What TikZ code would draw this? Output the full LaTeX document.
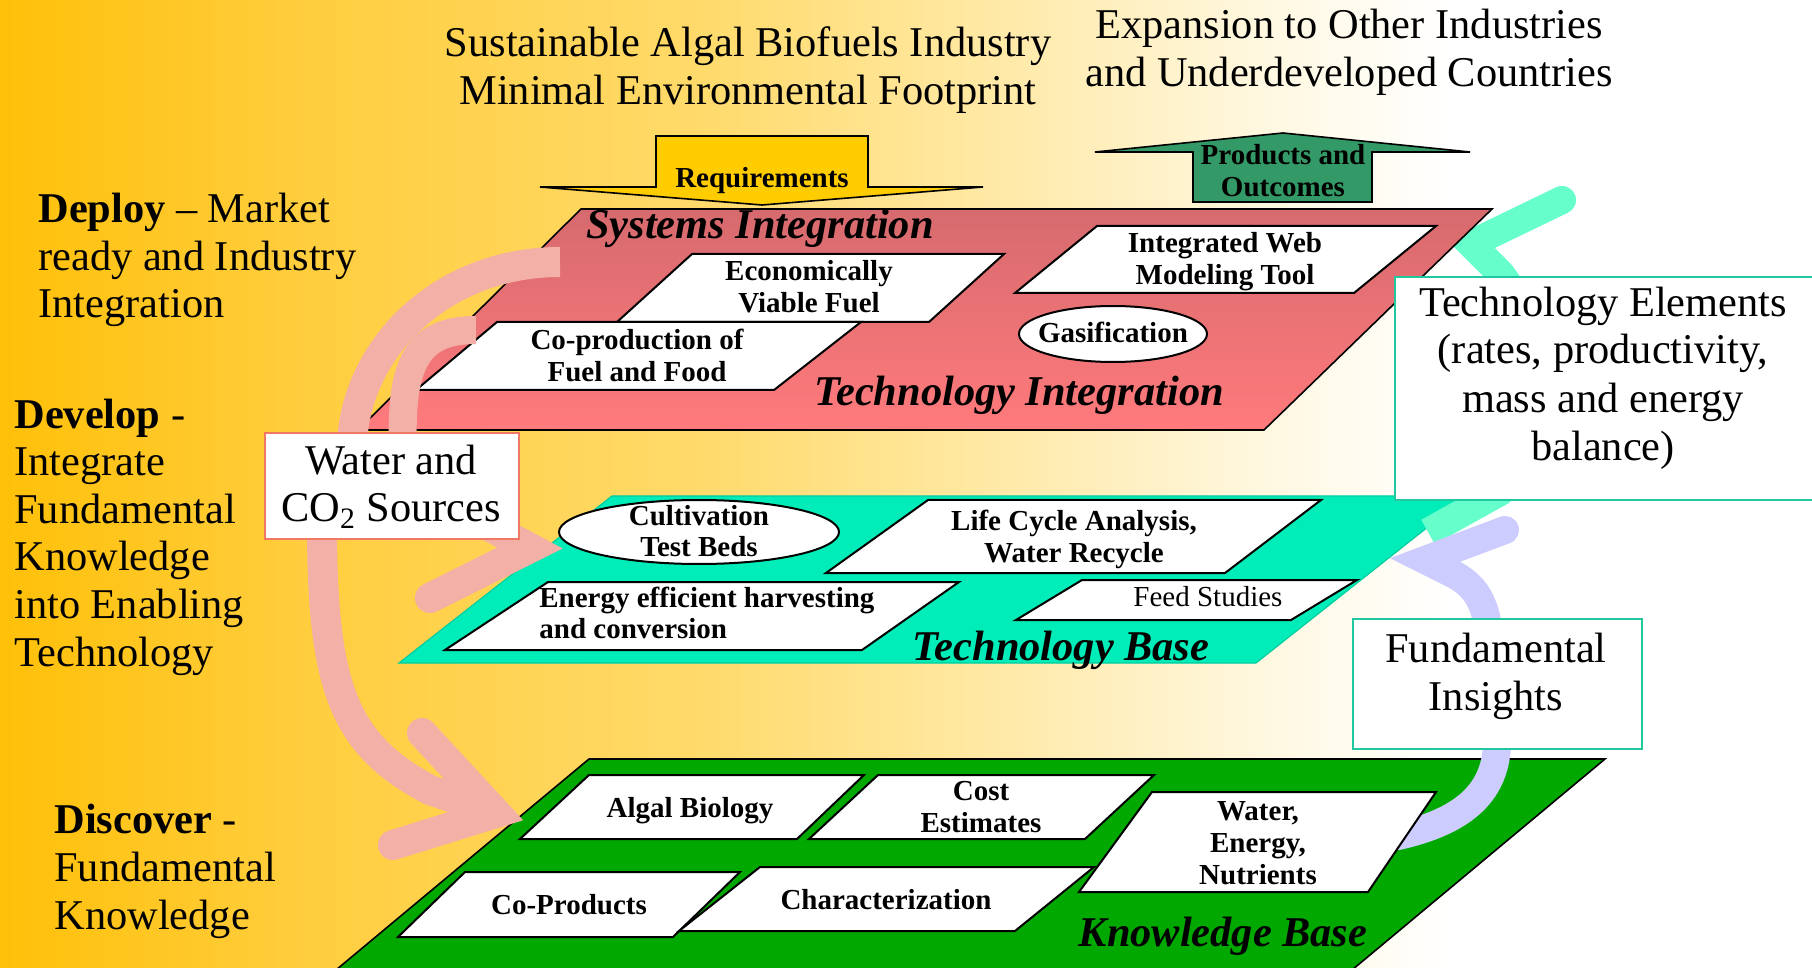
\documentclass[tikz,border=0pt]{standalone}
\usepackage{fontspec}
\setmainfont{Liberation Serif}
\usetikzlibrary{shapes.geometric}

\definecolor{bg0}{RGB}{255,192,8}
\definecolor{bg1}{RGB}{255,205,60}
\definecolor{bg2}{RGB}{255,218,105}
\definecolor{bg3}{RGB}{255,234,170}
\definecolor{bg4}{RGB}{255,248,225}
\definecolor{pinktop}{RGB}{214,106,110}
\definecolor{pinkbot}{RGB}{255,122,124}
\definecolor{tealbase}{RGB}{0,236,184}
\definecolor{tealedge}{RGB}{0,205,160}
\definecolor{greenbase}{RGB}{0,168,0}
\definecolor{reqfill}{RGB}{255,204,0}
\definecolor{prodfill}{RGB}{51,153,102}
\definecolor{salmon}{RGB}{243,176,166}
\definecolor{aqua}{RGB}{102,255,204}
\definecolor{lavender}{RGB}{204,204,255}
\definecolor{waterline}{RGB}{240,120,100}
\definecolor{boxteal}{RGB}{32,200,160}

\pgfdeclarehorizontalshading{bgshade}{100bp}{color(0bp)=(bg0); color(25bp)=(bg0);
  color(33bp)=(bg1); color(44bp)=(bg2); color(53bp)=(bg3); color(60bp)=(bg4);
  color(65bp)=(white); color(100bp)=(white)}

% multi-line nodes are anchored at the baseline of their last line
\tikzset{
  bigtext/.style={font=\fontsize{21.2pt}{24pt}\selectfont, inner sep=0pt, align=center, anchor=base},
  sidetext/.style={font=\fontsize{21.2pt}{23.8pt}\selectfont, inner sep=0pt, align=left, anchor=base west},
  smalllab/.style={font=\bfseries\fontsize{14.5pt}{16pt}\selectfont, inner sep=0pt, align=center, anchor=base},
  layerhead/.style={font=\bfseries\itshape\fontsize{21.2pt}{24pt}\selectfont, inner sep=0pt, anchor=base},
  layeredge/.style={draw=black, line width=0.8pt, line join=miter},
  para/.style={draw=black, line width=1pt, fill=white, line join=miter},
  oval/.style={ellipse, draw=black, line width=1pt, fill=white, inner sep=0pt},
  band/.style={line width=15pt, line cap=butt},
  chevron/.style={line width=15pt, line cap=round, line join=miter},
  infobox/.style={draw=boxteal, line width=0.8pt, fill=white, inner sep=0pt, anchor=north west}
}

\begin{document}
\begin{tikzpicture}[x=0.5pt,y=-0.5pt]
\clip (0,0) rectangle (1812,968);
\shade[shading=bgshade] (0,0) rectangle (1812,968);

% headline texts
\node[bigtext] (goal) at (748,105) {Sustainable Algal Biofuels Industry\\Minimal Environmental Footprint};
\node[bigtext] (expand) at (1349,87) {Expansion to Other Industries\\and Underdeveloped Countries};

% requirements (down) and products (up) block arrows
\filldraw[fill=reqfill, draw=black, line width=0.8pt, line join=miter]
  (656,136) -- (868,136) -- (868,187) -- (983,187) -- (762,205) -- (540,187) -- (656,187) -- cycle;
\node[smalllab] (req) at (762,188) {Requirements};
\filldraw[fill=prodfill, draw=black, line width=0.8pt, line join=miter]
  (1193,202) -- (1193,152) -- (1095,152) -- (1283,133) -- (1470,152) -- (1372,152) -- (1372,202) -- cycle;
\node[smalllab] (prod) at (1283,197) {Products and\\Outcomes};

% technology base layer
\filldraw[fill=tealbase, draw=tealedge, line width=0.6pt] (612,496) -- (1467,496) -- (1256,663) -- (399,663) -- cycle;
\node[oval, minimum width=140pt, minimum height=32pt] (cultoval) at (699,532) {};
\node[smalllab] (cult) at (699,557) {Cultivation\\Test Beds};
\draw[para] (928,500) -- (1321,500) -- (1225,573) -- (826,573) -- cycle;
\node[smalllab] (lca) at (1074,562) {Life Cycle Analysis,\\Water Recycle};
\draw[para] (548,582) -- (959,582) -- (862,650) -- (445,650) -- cycle;
\node[smalllab, align=left, anchor=base west] (harvest) at (539,639) {Energy efficient harvesting\\and conversion};
\draw[para] (1082,580) -- (1357,580) -- (1291,620) -- (1016,620) -- cycle;
\node[smalllab, font=\fontsize{14.5pt}{16pt}\selectfont] (feed) at (1208,606) {Feed Studies};
\node[layerhead] (techbase) at (1061,660) {Technology Base};

% feedback arrow from the technology base up to technology integration
\draw[aqua, band, line width=14pt, line join=miter]
  (1562,200) -- (1471,244) -- (1500,273) .. controls (1540,320) and (1545,440) .. (1500,492) -- (1428,532);
\fill[aqua] (1562,200) circle (7pt);

% technology integration layer
\shadedraw[top color=pinktop, bottom color=pinkbot, layeredge] (581,209) -- (1492,209) -- (1264,430) -- (358,430) -- cycle;
\node[layerhead] (sysint) at (760,239) {Systems Integration};
\draw[para] (692,254) -- (1004,254) -- (929,322) -- (617,322) -- cycle;
\node[smalllab] (econ) at (809,313) {Economically\\Viable Fuel};
\draw[para] (497,322) -- (861,322) -- (774,390) -- (416,390) -- cycle;
\node[smalllab] (coprod) at (637,382) {Co-production of\\Fuel and Food};
\draw[para] (1097,226) -- (1436,226) -- (1354,293) -- (1015,293) -- cycle;
\node[smalllab] (webtool) at (1225,285) {Integrated Web\\Modeling Tool};
\node[oval, minimum width=94pt, minimum height=28pt] (gasoval) at (1113,334) {};
\node[smalllab] (gas) at (1113,343) {Gasification};
\node[layerhead] (techint) at (1019,406) {Technology Integration};

% knowledge base layer
\filldraw[fill=greenbase, layeredge] (589,759) -- (1605,759) -- (1316,1000) -- (300,1000) -- cycle;

% insight arrow from the knowledge base up to the technology base
\draw[lavender, line width=14pt, line cap=round, line join=miter]
  (1505,530) -- (1425,560) -- (1455,575) .. controls (1478,588) and (1486,605) .. (1490,640)
  -- (1497,745) .. controls (1495,795) and (1460,822) .. (1398,836);

\draw[para] (589,775) -- (864,775) -- (797,839) -- (520,839) -- cycle;
\node[smalllab] (algal) at (690,817) {Algal Biology};
\draw[para] (878,775) -- (1154,775) -- (1085,839) -- (809,839) -- cycle;
\node[smalllab] (cost) at (981,832) {Cost\\Estimates};
\draw[para] (465,872) -- (740,872) -- (673,937) -- (398,937) -- cycle;
\node[smalllab] (coproducts) at (569,914) {Co-Products};
\draw[para] (760,867) -- (1094,867) -- (1015,931) -- (679,931) -- cycle;
\node[smalllab] (charact) at (886,909) {Characterization};
\draw[para] (1152,792) -- (1436,792) -- (1368,892) -- (1079,892) -- cycle;
\node[smalllab] (wen) at (1258,884) {Water,\\Energy,\\Nutrients};
\node[layerhead] (knowbase) at (1223,946) {Knowledge Base};

% water and CO2 supply arrows
\draw[salmon, band, line width=14pt] (403,445) .. controls (400,360) and (420,330) .. (476,330);
\draw[salmon, band] (352,445) .. controls (355,350) and (440,262) .. (560,262);
\draw[salmon, chevron] (442,501) -- (530,548) -- (430,598);
\draw[salmon, band] (322,525) .. controls (322,690) and (345,745) .. (430,790) -- (488,810);
\draw[salmon, chevron] (422,733) -- (496,813) -- (393,845);

% labelled boxes
\node[infobox, draw=waterline, minimum width=127pt, minimum height=53pt] (waterbox) at (264,432) {};
\node[bigtext] (watertext) at (391,522) {Water and\\CO\textsubscript{2} Sources};
\node[infobox, minimum width=211pt, minimum height=111.5pt] (techbox) at (1394,276) {};
\node[bigtext] (techtext) at (1603,460) {Technology Elements\\(rates, productivity,\\mass and energy\\balance)};
\node[infobox, minimum width=144.5pt, minimum height=65pt] (insightbox) at (1352,618) {};
\node[bigtext] (insighttext) at (1496,710) {Fundamental\\Insights};

% stage descriptions on the left
\node[sidetext] (deploy) at (38,318) {\textbf{Deploy} – Market\\ready and Industry\\Integration};
\node[sidetext] (develop) at (14,666) {\textbf{Develop} -\\Integrate\\Fundamental\\Knowledge\\into Enabling\\Technology};
\node[sidetext] (discover) at (54,929) {\textbf{Discover} -\\Fundamental\\Knowledge};
\end{tikzpicture}
\end{document}
